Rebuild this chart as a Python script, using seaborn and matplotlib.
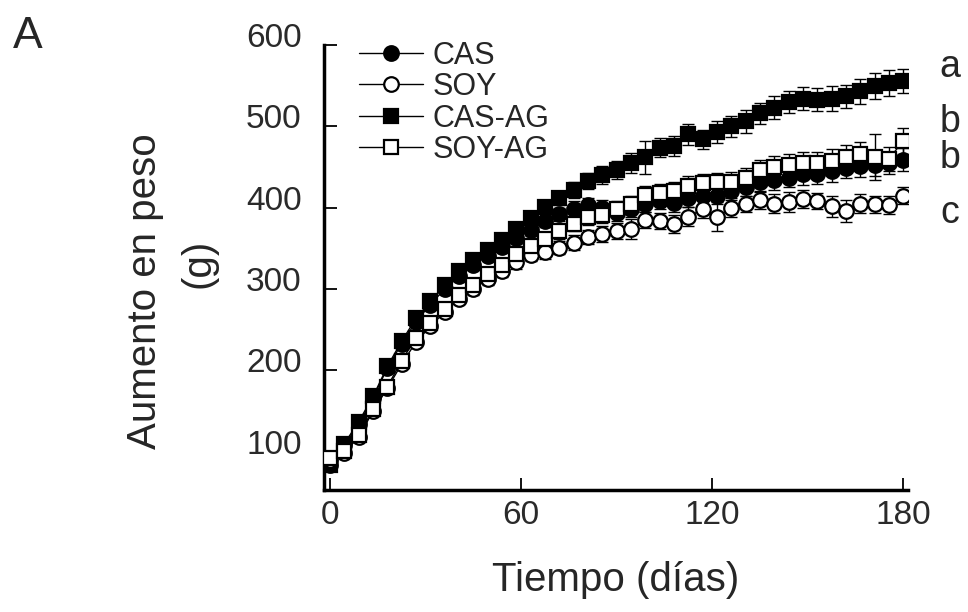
import seaborn as sns
import matplotlib.pyplot as plt
import matplotlib.transforms as mtrans
import pandas as pd
import numpy as np

# days of measurement (every ~4.5 days over 6 months)
dias = [0, 4.5, 9, 13.5, 18, 22.5, 27, 31.5, 36, 40.5, 45, 49.5, 54, 58.5, 63, 67.5, 72, 76.5, 81, 85.5,
        90, 94.5, 99, 103.5, 108, 112.5, 117, 121.5, 126, 130.5, 135, 139.5, 144, 148.5, 153, 157.5, 162,
        166.5, 171, 175.5, 180]

cas = [84, 108, 134, 166, 203, 233, 260, 281, 300, 316, 330, 341, 352, 363, 373, 384, 392, 399, 403, 400,
       394, 398, 405, 408, 406, 412, 415, 415, 421, 426, 431, 434, 437, 441, 442, 445, 449, 451, 453, 455, 459]
soy = [90, 99, 118, 150, 178, 208, 235, 254, 272, 288, 300, 312, 322, 333, 342, 346, 351, 357, 364, 368,
       371, 374, 385, 384, 380, 389, 398, 389, 400, 405, 409, 405, 407, 411, 408, 402, 396, 405, 404, 403, 415]
cas_ag = [84, 110, 137, 168, 205, 236, 264, 285, 305, 322, 336, 348, 360, 374, 387, 401, 412, 422, 433, 440,
          446, 455, 462, 474, 476, 490, 484, 493, 500, 506, 516, 523, 530, 534, 533, 534, 537, 543, 550, 553, 556]
soy_ag = [92, 101, 121, 152, 180, 212, 240, 258, 276, 293, 305, 318, 330, 343, 353, 362, 371, 380, 388, 391,
          398, 405, 416, 418, 421, 427, 430, 431, 432, 436, 446, 450, 453, 455, 455, 458, 462, 466, 462, 460, 482]

# standard errors
cas_se = [3, 3, 4, 4, 5, 5, 5, 6, 6, 6, 7, 7, 7, 8, 8, 8, 8, 9, 9, 9,
          10, 10, 10, 10, 11, 11, 11, 11, 12, 12, 12, 12, 12, 13, 13, 13, 13, 13, 14, 14, 14]
soy_se = [3, 3, 4, 4, 5, 5, 5, 6, 6, 6, 7, 7, 7, 8, 8, 9, 8, 9, 9, 10,
          10, 12, 10, 10, 11, 12, 11, 18, 12, 10, 11, 12, 12, 11, 10, 13, 14, 12, 10, 11, 10]
cas_ag_se = [3, 3, 4, 4, 5, 5, 5, 6, 6, 7, 7, 7, 8, 8, 9, 9, 9, 10, 10, 11,
             11, 12, 20, 12, 12, 13, 12, 14, 13, 14, 13, 14, 14, 14, 14, 15, 14, 15, 16, 16, 15]
soy_ag_se = [3, 3, 4, 4, 5, 5, 5, 6, 6, 6, 7, 7, 7, 8, 8, 8, 9, 9, 9, 10,
             10, 10, 11, 11, 11, 12, 12, 12, 12, 13, 13, 13, 13, 14, 14, 14, 15, 15, 28, 15, 16]

grupos = ['CAS', 'CAS-AG', 'SOY', 'SOY-AG']  # draw order, open symbols on top
valores = {'CAS': cas, 'SOY': soy, 'CAS-AG': cas_ag, 'SOY-AG': soy_ag}
errores = {'CAS': cas_se, 'SOY': soy_se, 'CAS-AG': cas_ag_se, 'SOY-AG': soy_ag_se}
estilo = {'CAS': ('o', 'black'), 'SOY': ('o', 'white'), 'CAS-AG': ('s', 'black'), 'SOY-AG': ('s', 'white')}

df = pd.concat([pd.DataFrame({'dias': dias, 'peso': valores[g], 'se': errores[g], 'grupo': g}) for g in grupos])

sns.set_theme(style='ticks')
plt.rcParams['font.family'] = ['Liberation Sans', 'DejaVu Sans']

fig = plt.figure(figsize=(9.68, 6.12), dpi=100, facecolor='white')
ax = fig.add_axes([324/968, 1-490/612, 584/968, 445/612])

for g in grupos:
    sub = df[df.grupo == g]
    mk, fc = estilo[g]
    ax.errorbar(sub.dias, sub.peso, yerr=sub.se, fmt='none', ecolor='black', elinewidth=1, capsize=4, capthick=1, zorder=2)
    sns.lineplot(data=sub, x='dias', y='peso', ax=ax, color='black', lw=1, marker=mk, markersize=10.5,
                 markerfacecolor=fc, markeredgecolor='black', markeredgewidth=1.6, label=g, errorbar=None, zorder=3)

handles, labels = ax.get_legend_handles_labels()
orden = ['CAS', 'SOY', 'CAS-AG', 'SOY-AG']
hs = [handles[labels.index(o)] for o in orden]
ax.legend(hs, orden, loc='upper left', bbox_to_anchor=(0.06, 1.01), frameon=False, fontsize=22,
          handlelength=2.1, handletextpad=0.3, labelspacing=0.05, borderpad=0, borderaxespad=0)

ax.set_xlim(-1.9, 181.5)
ax.set_ylim(53, 600)
ax.set_xticks([0, 60, 120, 180])
ax.set_yticks([100, 200, 300, 400, 500, 600])
ax.tick_params(direction='in', length=9, width=1.3, color='black', labelsize=24, labelcolor='#2a2a2a')
ax.tick_params(axis='y', pad=16)
ax.tick_params(axis='x', pad=7)
for lab in ax.get_yticklabels():
    lab.set_transform(lab.get_transform() + mtrans.ScaledTranslation(0, 0.1, fig.dpi_scale_trans))
sns.despine(ax=ax)
for s in ['left', 'bottom']:
    ax.spines[s].set_linewidth(2.5)
    ax.spines[s].set_color('black')

ax.set_xlabel('Tiempo (días)', fontsize=29, labelpad=22)
ax.set_ylabel('')
fig.text(145/968, 1-291/612, 'Aumento en peso', rotation=90, fontsize=29, ha='center', va='center')
fig.text(198/968, 1-263/612, '(g)', rotation=90, fontsize=29, ha='center', va='center')
fig.text(13/968, 1-48/612, 'A', fontsize=32, ha='left', va='baseline')

# significance letters
for letra, yb in zip(['a', 'b', 'b', 'c'], [77, 132, 168, 223]):
    fig.text(950/968, 1-yb/612, letra, fontsize=27, ha='center', va='baseline')

fig.savefig('out.png', dpi=100, facecolor='white')
